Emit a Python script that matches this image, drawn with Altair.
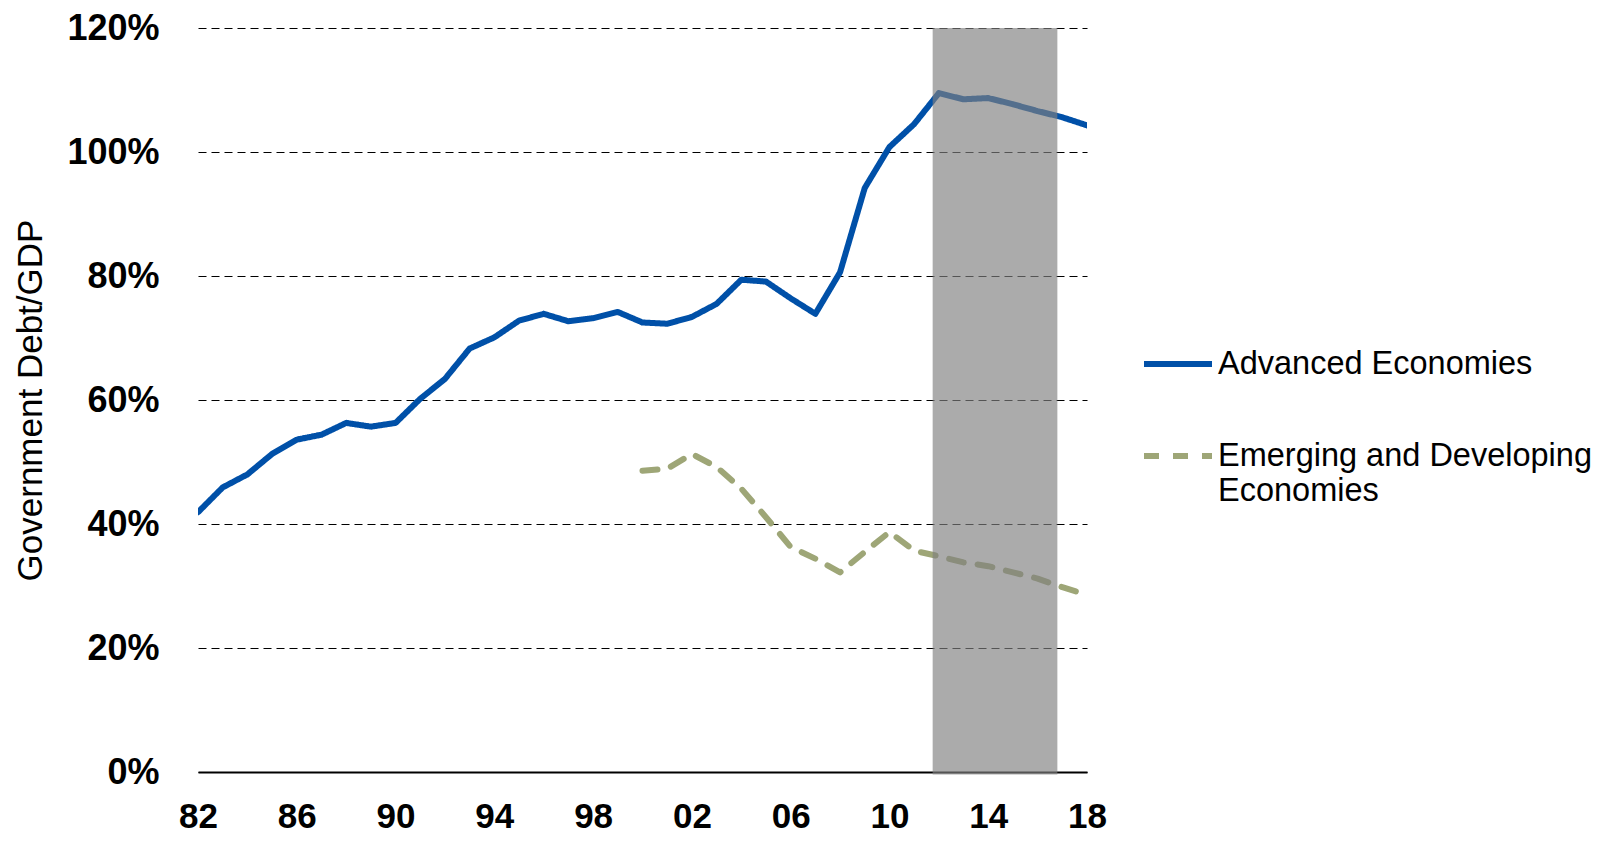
import altair as alt
import pandas as pd

# ---- data ----
series_names = ["Advanced Economies", "Emerging and Developing Economies"]
years_adv = list(range(1982, 2019))
adv_values = [41.9, 45.9, 48.0, 51.3, 53.6, 54.4, 56.3, 55.7, 56.3,
              60.2, 63.4, 68.3, 70.1, 72.8, 73.9, 72.7, 73.2, 74.2,
              72.5, 72.3, 73.4, 75.5, 79.4, 79.1, 76.4, 73.9, 80.6, 94.2,
              100.8, 104.5, 109.5, 108.5, 108.7, 107.7, 106.6, 105.6, 104.3]
years_em = list(range(2000, 2019))
em_values = [48.6, 48.9, 51.3, 49.2, 45.7, 41.1, 36.3, 34.4, 32.2, 35.5,
             38.7, 35.7, 34.8, 33.8, 33.2, 32.2, 31.2, 29.8, 28.6]
shade_x = [2011.75]
shade_x2 = [2016.8]
shade_y = [120]
shade_y2 = [-0.4]
y_ticks = [0, 20, 40, 60, 80, 100, 120]
x_ticks = [1982, 1986, 1990, 1994, 1998, 2002, 2006, 2010, 2014, 2018]

rows = [{"year": y, "value": v, "series": series_names[0]} for y, v in zip(years_adv, adv_values)]
rows += [{"year": y, "value": v, "series": series_names[1]} for y, v in zip(years_em, em_values)]
df = pd.DataFrame(rows)
shade_df = pd.DataFrame({"x": shade_x, "x2": shade_x2, "y": shade_y, "y2": shade_y2})

BLUE = "#0050A8"
GREEN = "#9EA677"
TICK_FONT = "Liberation Sans"

x_scale = alt.Scale(domain=[1982, 2018], nice=False, zero=False)
y_scale = alt.Scale(domain=[0, 120], nice=False)

legend = alt.Legend(
    title=None, orient="none", legendX=943, legendY=299,
    labelFont="Liberation Sans", labelFontSize=32.5, labelColor="black",
    symbolType="stroke", symbolSize=4624, symbolStrokeWidth=6,
    labelLimit=700, labelOffset=3, rowPadding=38,
    labelExpr="datum.label == 'Emerging and Developing Economies' ? ['Emerging and Developing', 'Economies'] : datum.label",
)

lines = alt.Chart(df).mark_line(strokeWidth=6, strokeCap="round", strokeJoin="round", clip=True).encode(
    x=alt.X("year:Q", scale=x_scale, title=None,
            axis=alt.Axis(values=x_ticks, labelExpr="slice(toString(datum.value), 2)",
                          grid=False, ticks=False, domain=True, domainColor="black", domainWidth=2,
                          labelFont=TICK_FONT, labelFontSize=35, labelFontWeight="bold",
                          labelColor="black", labelPadding=27, labelFlush=False)),
    y=alt.Y("value:Q", scale=y_scale,
            axis=alt.Axis(values=y_ticks, labelExpr="datum.value + '%'",
                          grid=True, gridDash=[8, 5], gridColor="black", gridWidth=1.2,
                          ticks=False, domain=False,
                          labelFont=TICK_FONT, labelFontSize=36, labelFontWeight="bold",
                          labelColor="black", labelPadding=39,
                          title="Government Debt/GDP", titleFont="Liberation Sans",
                          titleFontSize=35, titleFontWeight="normal", titleColor="black", titlePadding=18)),
    color=alt.Color("series:N", scale=alt.Scale(domain=series_names, range=[BLUE, GREEN]), legend=legend),
    strokeDash=alt.StrokeDash("series:N", scale=alt.Scale(domain=series_names, range=[[1, 0], [15, 14]]), legend=legend),
)

shade = alt.Chart(shade_df).mark_rect(color="#808080", opacity=0.66).encode(
    x=alt.X("x:Q", scale=x_scale),
    x2="x2:Q",
    y=alt.Y("y:Q", scale=y_scale),
    y2="y2:Q",
)

chart = alt.layer(lines, shade).properties(
    width=889, height=744,
    padding={"left": 190, "top": 20, "right": 508, "bottom": 62},
    autosize=alt.AutoSizeParams(type="none"),
    background="white",
).configure_view(stroke=None)

chart.save("out.html", embed_options={"renderer": "svg", "actions": False})
